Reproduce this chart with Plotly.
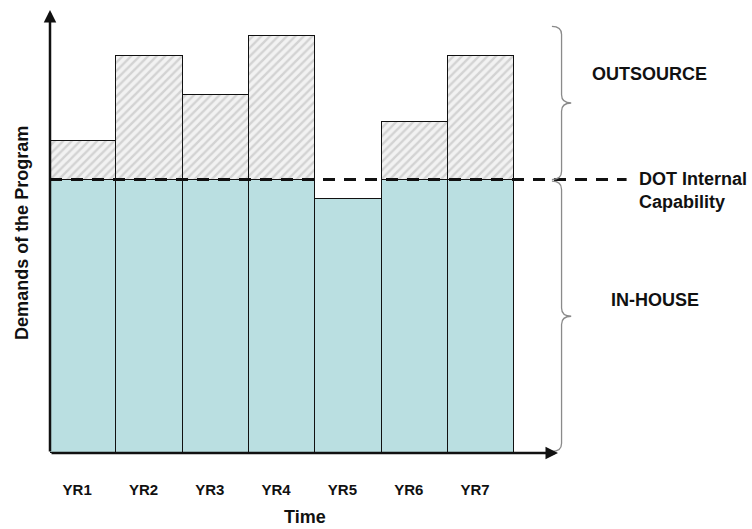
import plotly.graph_objects as go

# Program demand per year, split into work kept in-house and work outsourced
years = ["YR1", "YR2", "YR3", "YR4", "YR5", "YR6", "YR7"]
in_house = [100, 100, 100, 100, 93, 100, 100]
outsource = [14, 45, 31, 52.5, 0, 21, 45]
internal_capability = 100
demand_peak = 156

FONT = "Liberation Sans, Arial, sans-serif"
INK = "#111111"
Y_MAX = 162
X_MIN, X_MAX = -0.5, 7.16

x_pos = list(range(len(years)))

fig = go.Figure()
fig.add_trace(go.Bar(
    x=x_pos, y=in_house, name="In-house", width=1,
    marker=dict(color="#BADFE1", line=dict(color=INK, width=1.5)),
    hoverinfo="skip",
))
fig.add_trace(go.Bar(
    x=x_pos, y=[v if v > 0 else None for v in outsource], name="Outsource", width=1,
    marker=dict(
        color="#f2f2f2",
        line=dict(color=INK, width=1.5),
        pattern=dict(shape="/", fgcolor="#b3b3b3", bgcolor="#f2f2f2", size=6, solidity=0.4),
    ),
    hoverinfo="skip",
))


def brace(x_end, x_spine, x_tip, y_lo, y_hi, k=3.0):
    """Right-facing curly brace; x in paper units, y in data units."""
    y_mid = (y_lo + y_hi) / 2
    return (
        f"M {x_end},{y_hi} Q {x_spine},{y_hi} {x_spine},{y_hi - k} "
        f"L {x_spine},{y_mid + k} Q {x_spine},{y_mid} {x_tip},{y_mid} "
        f"Q {x_spine},{y_mid} {x_spine},{y_mid - k} "
        f"L {x_spine},{y_lo + k} Q {x_spine},{y_lo} {x_end},{y_lo}"
    )


shapes = [
    # internal capability threshold, extended to its label
    dict(type="line", xref="paper", yref="y", x0=0, x1=1.135,
         y0=internal_capability, y1=internal_capability,
         line=dict(color=INK, width=3, dash="12px,9px"), layer="above"),
    dict(type="path", xref="paper", yref="y",
         path=brace(0.988, 1.007, 1.026, internal_capability, demand_peak),
         line=dict(color="#8a8a8a", width=1.3)),
    dict(type="path", xref="paper", yref="y",
         path=brace(0.988, 1.007, 1.026, 0.6, internal_capability - 0.6),
         line=dict(color="#8a8a8a", width=1.3)),
]

annotations = [
    # arrowed axes
    dict(x=X_MIN, y=Y_MAX, xref="x", yref="y", ax=X_MIN, ay=0, axref="x", ayref="y",
         text="", showarrow=True, arrowhead=2, arrowsize=1, arrowwidth=2.5, arrowcolor=INK,
         standoff=0),
    dict(x=X_MAX, y=0, xref="x", yref="y", ax=X_MIN, ay=0, axref="x", ayref="y",
         text="", showarrow=True, arrowhead=2, arrowsize=1, arrowwidth=2.5, arrowcolor=INK,
         standoff=0),
    dict(text="<b>Demands of the Program</b>", textangle=-90, xref="paper", yref="paper",
         x=-0.055, y=0.497, xanchor="center", yanchor="middle", showarrow=False,
         font=dict(family=FONT, size=18, color=INK)),
    dict(text="<b>Time</b>", xref="paper", yref="paper", x=0.502, y=-0.1445,
         xanchor="center", yanchor="middle", showarrow=False,
         font=dict(family=FONT, size=18, color=INK)),
    dict(text="<b>OUTSOURCE</b>", xref="paper", yref="y", x=1.181, y=138.6,
         xanchor="center", yanchor="middle", showarrow=False,
         font=dict(family=FONT, size=18, color=INK)),
    dict(text="<b>IN-HOUSE</b>", xref="paper", yref="y", x=1.191, y=55.9,
         xanchor="center", yanchor="middle", showarrow=False,
         font=dict(family=FONT, size=18, color=INK)),
    dict(text="<b>DOT Internal<br>Capability</b>", xref="paper", yref="y", x=1.155, y=96.0,
         xanchor="left", yanchor="middle", align="left", showarrow=False,
         font=dict(family=FONT, size=18, color=INK)),
]

fig.update_layout(
    width=752, height=529,
    margin=dict(l=50, r=194, t=10, b=76),
    barmode="stack", bargap=0,
    showlegend=False,
    plot_bgcolor="white", paper_bgcolor="white",
    shapes=shapes, annotations=annotations,
    xaxis=dict(
        range=[X_MIN, X_MAX], tickvals=x_pos, ticktext=[f"<b>{y}</b>" for y in years],
        showgrid=False, zeroline=False, showline=False, ticks="",
        ticklabelstandoff=26, ticklabelshift=-6,
        tickfont=dict(family=FONT, size=15, color=INK),
    ),
    yaxis=dict(
        range=[0, Y_MAX], showgrid=False, zeroline=False, showline=False,
        showticklabels=False, ticks="",
    ),
)

fig.write_html("out.html")
